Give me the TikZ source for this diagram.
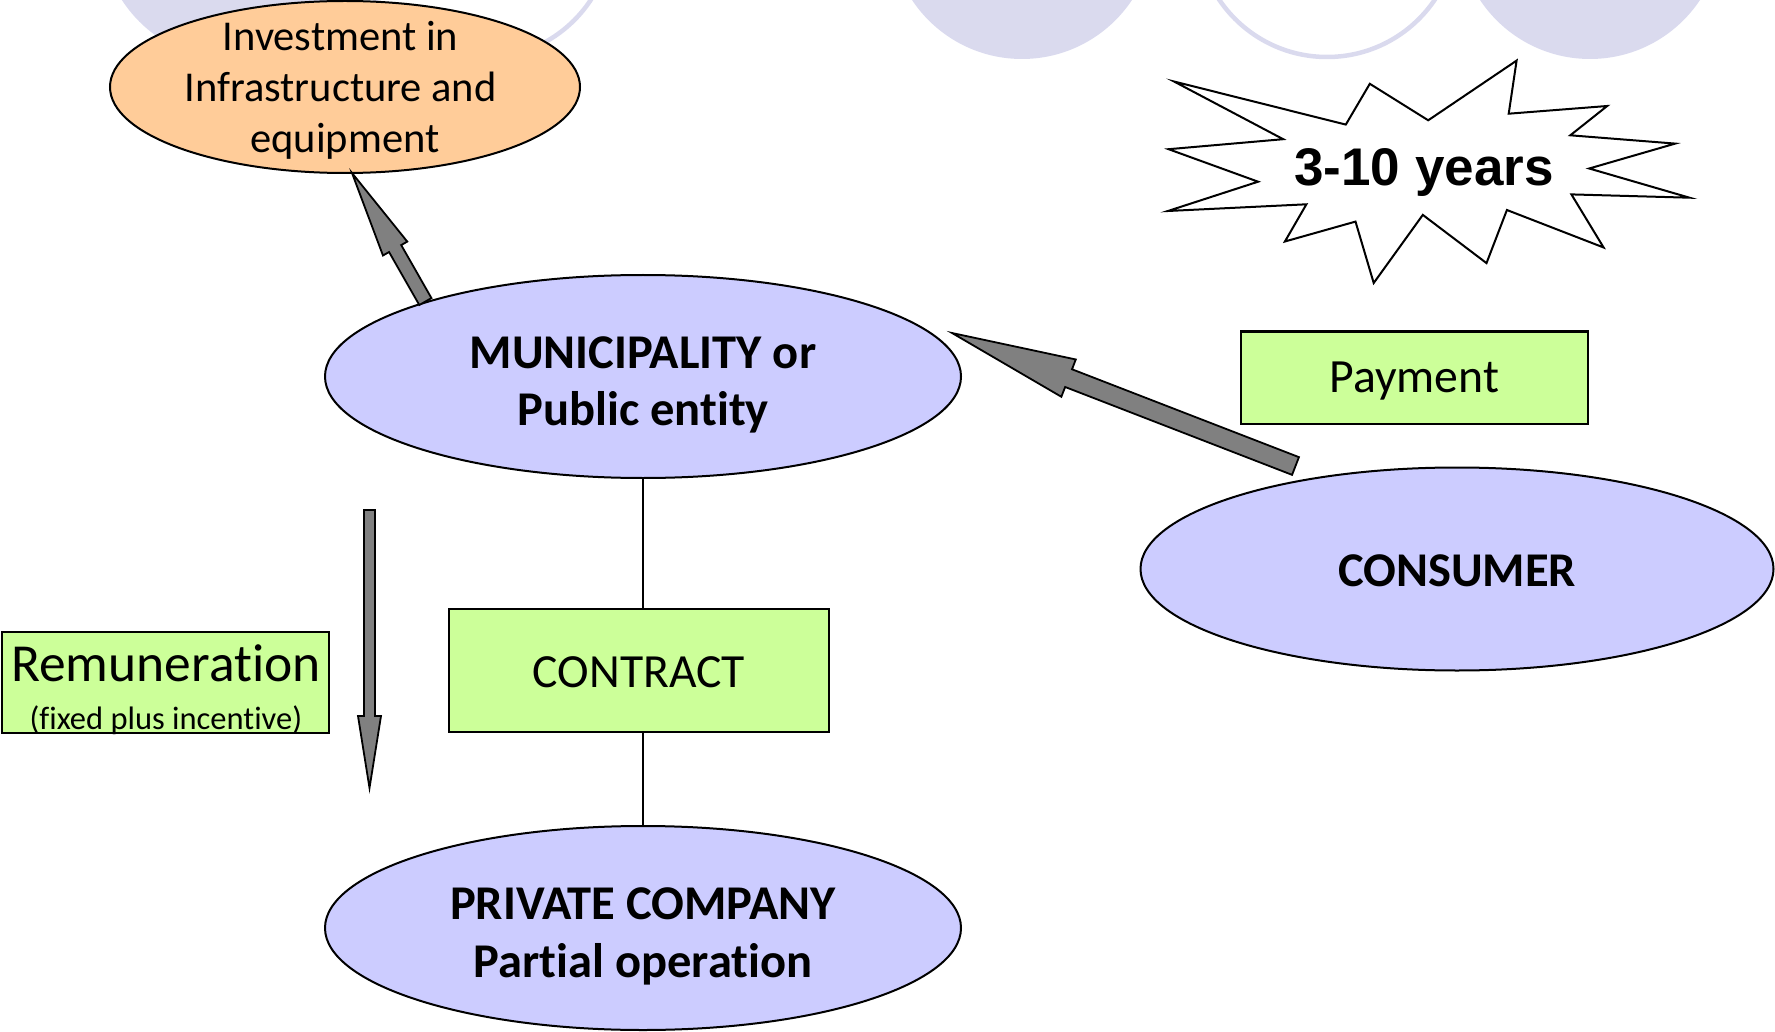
\documentclass[tikz,border=0pt]{standalone}
\usepackage{fontspec}
\setmainfont{Carlito}[Ligatures=NoCommon]
\newfontfamily\arialfont{Liberation Sans}
\usetikzlibrary{shapes.geometric,calc}
\definecolor{lav}{RGB}{204,204,255}
\definecolor{bglav}{RGB}{218,218,238}
\definecolor{orangefill}{RGB}{255,204,153}
\definecolor{greenfill}{RGB}{204,255,153}
\definecolor{arrowgray}{RGB}{128,128,128}
\tikzset{
 ellnode/.style={ellipse, draw=black, line width=2pt, fill=lav, inner sep=0pt, align=center},
 boxnode/.style={rectangle, draw=black, line width=2pt, fill=greenfill, inner sep=0pt, align=center},
 textlabel/.style={inner sep=0pt, align=center},
 link/.style={line width=1.8pt, draw=black},
 blockarr/.style={fill=arrowgray, draw=black, line width=1.8pt, line join=miter},
 bgdisc/.style={fill=bglav},
 bgring/.style={draw=bglav, line width=4.5pt},
 burst/.style={draw=black, fill=white, line width=2pt, line join=miter},
 boldtext/.style={font=\bfseries\fontsize{48.5}{57}\selectfont},
}
% #1 tail, #2 tip, #3 half shaft width, #4 half head width, #5 head length
\newcommand{\blockarrowdraw}[5]{%
  \path #1 coordinate (batail) #2 coordinate (batip);
  \path ($(batip)!#5!(batail)$) coordinate (babase);
  \draw[blockarr]
    ($(batail)!#3!90:(batip)$) --
    ($(babase)!#3!90:(batip)$) --
    ($(babase)!#4!90:(batip)$) --
    (batip) --
    ($(babase)!#4!-90:(batip)$) --
    ($(babase)!#3!-90:(batip)$) --
    ($(batail)!#3!-90:(batip)$) -- cycle;
}
\begin{document}
\begin{tikzpicture}[x=1pt,y=-1pt]
\useasboundingbox (0,0) rectangle (1775,1032);
% background decoration
\fill[bgdisc] (232,-71) circle (131);
\draw[bgring] (483,-71) circle (129);
\fill[bgdisc] (1022,-73) circle (132);
\draw[bgring] (1327,-73) circle (130);
\fill[bgdisc] (1590,-73) circle (132);

% starburst
\draw[burst] (1174.0,81.5) -- (1345.8,124.6) -- (1369.8,83.8) -- (1428.2,120.3)
 -- (1516.6,60.6) -- (1508.7,113.7) -- (1607.2,106.0) -- (1570.3,135.3)
 -- (1675.2,143.6) -- (1589.2,168.5) -- (1689.5,197.7) -- (1571.4,194.4)
 -- (1603.6,247.5) -- (1506.9,210.0) -- (1486.5,263.1) -- (1422.8,214.9)
 -- (1373.7,283.0) -- (1355.5,221.6) -- (1284.9,241.5) -- (1306.4,204.3)
 -- (1167.9,211.0) -- (1258.1,181.7) -- (1168.6,149.2) -- (1283.2,139.2) -- cycle;
\node[font=\arialfont\bfseries\fontsize{53}{60}\selectfont, inner sep=0pt] (years) at (1424,172) {3-10 years};

% nodes
\node[ellnode, fill=orangefill, minimum width=470pt, minimum height=172pt] (inv) at (345,87) {};
\node[textlabel, font=\fontsize{42.5}{51}\selectfont] (invtext) at ([xshift=-4.5pt,yshift=-3pt]inv.center) {Investment in\\Infrastructure and\\\hspace*{9pt}equipment};
\node[ellnode, minimum width=636pt, minimum height=203pt] (muni) at (643,376.5) {};
\node[textlabel, boldtext] (munitext) at ([yshift=-8pt]muni.center) {MUNICIPALITY or\\Public entity};
\node[ellnode, minimum width=633pt, minimum height=203pt] (cons) at (1457,569) {};
\node[textlabel, boldtext] (constext) at ([yshift=-2pt]cons.center) {CONSUMER};
\node[ellnode, minimum width=636pt, minimum height=204pt] (priv) at (643,928) {};
\node[textlabel, font=\bfseries\fontsize{48.5}{58}\selectfont] (privtext) at ([yshift=-8pt]priv.center) {PRIVATE COMPANY\\Partial operation};

\node[boxnode, minimum width=380pt, minimum height=123pt] (contract) at (639,670.5) {};
\node[textlabel, font=\fontsize{47.6}{57}\selectfont] (contracttext) at ([yshift=-2pt]contract.center) {CONTRACT};
\node[boxnode, minimum width=347pt, minimum height=92pt] (payment) at (1414.3,377.5) {};
\node[textlabel, font=\fontsize{47.7}{57}\selectfont] (paymenttext) at ([yshift=-4pt]payment.center) {Payment};
\node[boxnode, minimum width=327pt, minimum height=101pt] (remun) at (165.9,682) {};
\node[textlabel, font=\fontsize{32.5}{48}\selectfont] (remuntext) at ([yshift=-8pt]remun.center) {{\fontsize{53.5}{48}\selectfont Remuneration}\\(fixed plus incentive)};

% connectors
\draw[link] (muni.south) -- (muni.south |- contract.north);
\draw[link] (priv.north |- contract.south) -- (priv.north);

% block arrows
\blockarrowdraw{(muni.161)}{([xshift=7pt,yshift=1pt]inv.south)}{7pt}{14pt}{87pt}
\coordinate (paytail) at (1295.5,466);
\coordinate (paytip) at (952,333);
\blockarrowdraw{(paytail)}{(paytip)}{9.5pt}{20pt}{125pt}
\coordinate (remtail) at (369.5,510);
\coordinate (remtip) at (369.5,788);
\blockarrowdraw{(remtail)}{(remtip)}{5.5pt}{11.5pt}{72pt}
\end{tikzpicture}
\end{document}
